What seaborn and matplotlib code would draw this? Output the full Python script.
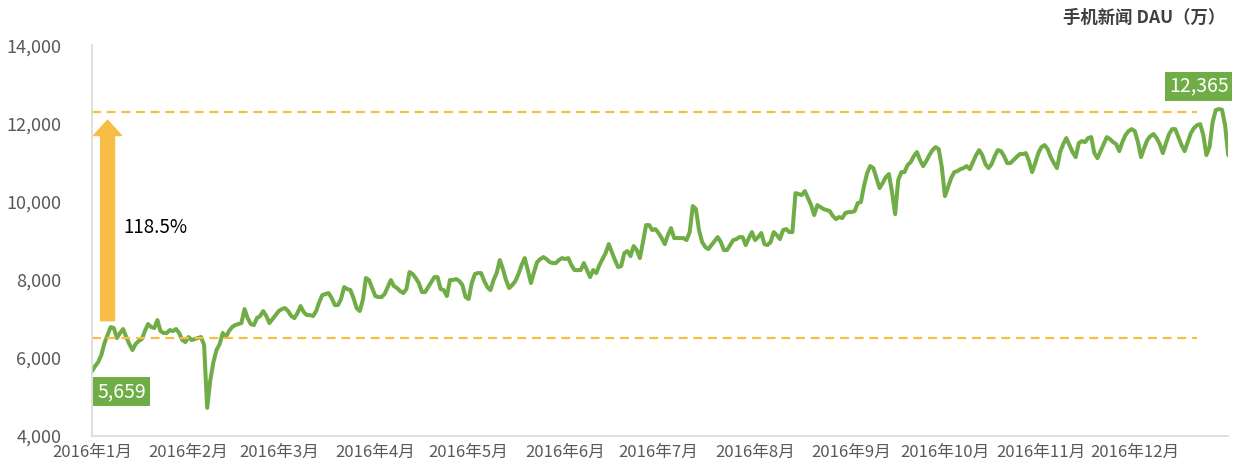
import numpy as np
import pandas as pd
import seaborn as sns
import matplotlib.pyplot as plt
import matplotlib.dates as mdates
from matplotlib.ticker import FuncFormatter

# daily DAU (万), 2016
jan = [5659, 5790, 5893, 6072, 6379, 6584, 6788, 6763, 6507, 6635, 6737, 6533, 6353, 6200, 6353, 6430,
       6481, 6686, 6865, 6788, 6763, 6967, 6686, 6635, 6635, 6711, 6686, 6737, 6635, 6456, 6405]
feb = [6533, 6456, 6481, 6507, 6533, 6330, 4720, 5430, 5890, 6200, 6350, 6635, 6533, 6686, 6788, 6840,
       6865, 6891, 7249, 7018, 6865, 6840, 7018, 7070, 7198, 7070, 6891, 6993, 7095]
mar = [7198, 7249, 7274, 7198, 7070, 7018, 7146, 7325, 7172, 7095, 7095, 7070, 7198, 7428, 7607, 7632,
       7658, 7530, 7351, 7351, 7505, 7811, 7760, 7735, 7530, 7274, 7198, 7479, 8042, 7991, 7786]
apr = [7581, 7556, 7556, 7632, 7811, 7991, 7837, 7786, 7709, 7658, 7760, 8195, 8144, 8042, 7914, 7684,
       7684, 7811, 7939, 8067, 8067, 7760, 7735, 7581, 7991, 7991, 8016, 7965, 7863, 7556]
may = [7505, 7914, 8144, 8170, 8170, 7965, 7811, 7735, 7991, 8170, 8502, 8272, 7991, 7786, 7863, 7965,
       8144, 8374, 8553, 8246, 7914, 8195, 8451, 8528, 8579, 8528, 8451, 8425, 8425, 8502, 8553]
jun = [8528, 8553, 8374, 8246, 8246, 8246, 8425, 8246, 8067, 8246, 8170, 8374, 8528, 8681, 8911, 8707,
       8502, 8323, 8349, 8681, 8732, 8604, 8860, 8758, 8553, 8963, 9397, 9397, 9269, 9295]
jul = [9193, 9065, 8911, 9142, 9321, 9065, 9065, 9065, 9065, 9014, 9218, 9883, 9807, 9269, 8963, 8835,
       8784, 8886, 8988, 9090, 8963, 8758, 8758, 8886, 9014, 9039, 9090, 9090, 8886, 9065, 9218]
aug = [9014, 9090, 9193, 8911, 8886, 8963, 9218, 9142, 9039, 9269, 9295, 9218, 9218, 10216, 10190, 10165,
       10267, 10088, 9909, 9653, 9909, 9858, 9807, 9781, 9756, 9628, 9551, 9602, 9577, 9705, 9730]
sep = [9730, 9756, 9960, 9986, 10395, 10728, 10907, 10856, 10600, 10344, 10472, 10625, 10702, 10242, 9679,
       10549, 10753, 10753, 10932, 11009, 11162, 11265, 11060, 10907, 11035, 11188, 11316, 11393, 11342, 10881]
oct_ = [10139, 10370, 10600, 10753, 10779, 10830, 10856, 10907, 10830, 11009, 11188, 11316, 11188, 10958,
        10856, 10958, 11162, 11316, 11290, 11162, 10983, 10983, 11060, 11137, 11214, 11214, 11239, 11035,
        10753, 10983, 11239]
nov = [11393, 11444, 11342, 11137, 10983, 10856, 11265, 11470, 11623, 11444, 11265, 11137, 11495, 11546,
       11521, 11623, 11649, 11239, 11111, 11290, 11470, 11649, 11598, 11521, 11470, 11290, 11521, 11700,
       11802, 11853]
dec = [11802, 11521, 11137, 11367, 11572, 11674, 11726, 11623, 11470, 11239, 11495, 11726, 11853, 11853,
       11649, 11444, 11290, 11521, 11751, 11879, 11955, 11981, 11700, 11188, 11393, 12032, 12340, 12365,
       12350, 11955, 11188]

month_labels = [f"2016年{m}月" for m in range(1, 13)]
y_ticks = [4000, 6000, 8000, 10000, 12000, 14000]
ref_low = 6500
ref_high = 12280
first_val = 5659
max_val = 12365
growth_label = "118.5%"
title = "手机新闻 DAU（万）"

dau = jan + feb + mar + apr + may + jun + jul + aug + sep + oct_ + nov + dec
df = pd.DataFrame({"date": pd.date_range("2016-01-01", periods=len(dau), freq="D"), "dau": dau})

green = "#70AD47"
orange = "#F8BD45"
gray = "#595959"

sns.set_style("white")
plt.rcParams["font.family"] = ["Noto Sans CJK SC", "DejaVu Sans"]

fig = plt.figure(figsize=(12.35, 4.76), dpi=100)
ax = fig.add_axes([0.0745, 0.084, 0.92, 0.821])

sns.lineplot(data=df, x="date", y="dau", color=green, lw=2.9, ax=ax)

# reference lines
line_end = pd.Timestamp("2016-12-21")
for v in (ref_low, ref_high):
    ax.hlines(v, df["date"].iloc[0], line_end, colors=orange, lw=1.6, linestyles=(0, (4, 2.6)))

# growth arrow
arrow_x = pd.Timestamp("2016-01-06")
ax.annotate("", xy=(arrow_x, 12080), xytext=(arrow_x, 6950),
            arrowprops=dict(arrowstyle="simple,head_width=1.0,head_length=0.55,tail_width=0.5",
                            color=orange, shrinkA=0, shrinkB=0, mutation_scale=20))
ax.text(pd.Timestamp("2016-01-11"), 9330, growth_label, fontsize=13.5, fontweight="medium",
        color="black", va="center", ha="left")

# value labels
ax.text(pd.Timestamp("2016-01-10 12:00"), 5130, f"{first_val:,}", fontsize=14, color="white",
        ha="center", va="center", bbox=dict(boxstyle="square,pad=0.2", fc=green, ec="none"))
ax.text(pd.Timestamp("2016-12-21 12:00"), 12950, f"{max_val:,}", fontsize=14, color="white",
        ha="center", va="center", bbox=dict(boxstyle="square,pad=0.2", fc=green, ec="none"))

ax.set_xlim(pd.Timestamp("2016-01-01"), pd.Timestamp("2016-12-31"))
ax.set_ylim(4000, 14000)
ax.set_yticks(y_ticks)
ax.yaxis.set_major_formatter(FuncFormatter(lambda v, p: f"{int(v):,}"))
ax.set_xticks(pd.date_range("2016-01-01", periods=12, freq="MS"))
ax.set_xticklabels(month_labels)
ax.tick_params(axis="x", labelsize=12, colors=gray, length=0, pad=6)
ax.tick_params(axis="y", labelsize=13, colors=gray, length=0, pad=22)
ax.set_xlabel("")
ax.set_ylabel("")

for s in ("top", "right"):
    ax.spines[s].set_visible(False)
for s in ("left", "bottom"):
    ax.spines[s].set_color("#D9D9D9")
    ax.spines[s].set_linewidth(1.2)

fig.text(0.992, 0.962, title, ha="right", va="center", fontsize=12.5, fontweight="bold", color="#404040")

fig.savefig("out.png", dpi=100)
